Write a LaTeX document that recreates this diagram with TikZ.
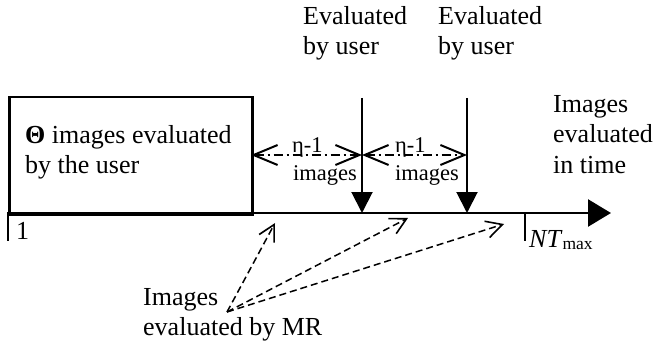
\documentclass[tikz,border=0pt]{standalone}
\usepackage{fontspec}
\setmainfont{Liberation Serif}
\usetikzlibrary{arrows.meta}
\begin{document}
\begin{tikzpicture}[x=1pt,y=-1pt,
  txt/.style={font=\fontsize{26}{30}\selectfont, inner sep=0pt, align=left, anchor=base west},
  lbl/.style={font=\fontsize{22.5}{26}\selectfont, inner sep=0pt, anchor=base west},
  axisline/.style={line width=2.5pt, -{Triangle[length=23pt,width=27pt]}},
  tickline/.style={line width=2.2pt},
  userarrow/.style={line width=2pt, -{Triangle[length=21pt,width=21pt]}},
  spanarrow/.style={line width=1.8pt, dash pattern=on 9pt off 4pt on 2pt off 4pt,
    {Straight Barb[length=24pt,width=20pt,line width=2pt]}-{Straight Barb[length=24pt,width=20pt,line width=2pt]}},
  mrarrow/.style={line width=1.5pt, dash pattern=on 7pt off 4pt, -{Straight Barb[length=16pt,width=17pt,line width=1.6pt]}}
]
\useasboundingbox (0,0) rectangle (657,345);

% box
\node[draw, line width=2.5pt, minimum width=243pt, minimum height=117pt, anchor=north west, inner sep=0pt] (box) at (8,96) {};
\node[txt] (boxtext) at (25,174) {\textbf{Θ} images evaluated\\[1pt]by the user};

% axis
\coordinate (o) at (8,213);
\coordinate (axend) at (611,213);
\draw[axisline] (o) -- (axend);

% ticks
\coordinate (t1a) at (8,212);
\coordinate (t1b) at (8,241);
\draw[tickline] (t1a) -- (t1b);
\node[txt] (one) at (16,240) {1};
\coordinate (t2a) at (525,212);
\coordinate (t2b) at (525,241);
\draw[tickline] (t2a) -- (t2b);
\node[txt] (ntmax) at (529,247) {\textit{NT}\raisebox{-2pt}{\fontsize{17.5}{20}\selectfont max}};

% user arrows
\coordinate (v1t) at (362,98);
\coordinate (v1b) at (362,213);
\coordinate (v2t) at (467,98);
\coordinate (v2b) at (467,213);
\draw[userarrow] (v1t) -- (v1b);
\draw[userarrow] (v2t) -- (v2b);
\node[txt] (ev1) at (303,55) {Evaluated\\by user};
\node[txt] (ev2) at (438,55) {Evaluated\\by user};

% span arrows
\coordinate (d0) at (251,155);
\coordinate (d1) at (362,155);
\coordinate (d2) at (467,155);
\draw[spanarrow] (d0) -- (d1);
\draw[spanarrow] (d1) -- (d2);
\node[lbl] (eta1) at (292,153) {η-1};
\node[lbl] (img1) at (293,180) {images};
\node[lbl] (eta2) at (395,153) {η-1};
\node[lbl] (img2) at (395,180) {images};

% right label
\node[txt] (time) at (553,173) {Images\\[0.5pt]evaluated\\[0.5pt]in time};

% MR label and arrows
\node[txt] (mr) at (143,335) {Images\\evaluated by MR};
\coordinate (src) at (227,312);
\coordinate (m1) at (275,223);
\coordinate (m2) at (408,218);
\coordinate (m3) at (504,224);
\draw[mrarrow] (src) -- (m1);
\draw[mrarrow] (src) -- (m2);
\draw[mrarrow] (src) -- (m3);
\end{tikzpicture}
\end{document}
